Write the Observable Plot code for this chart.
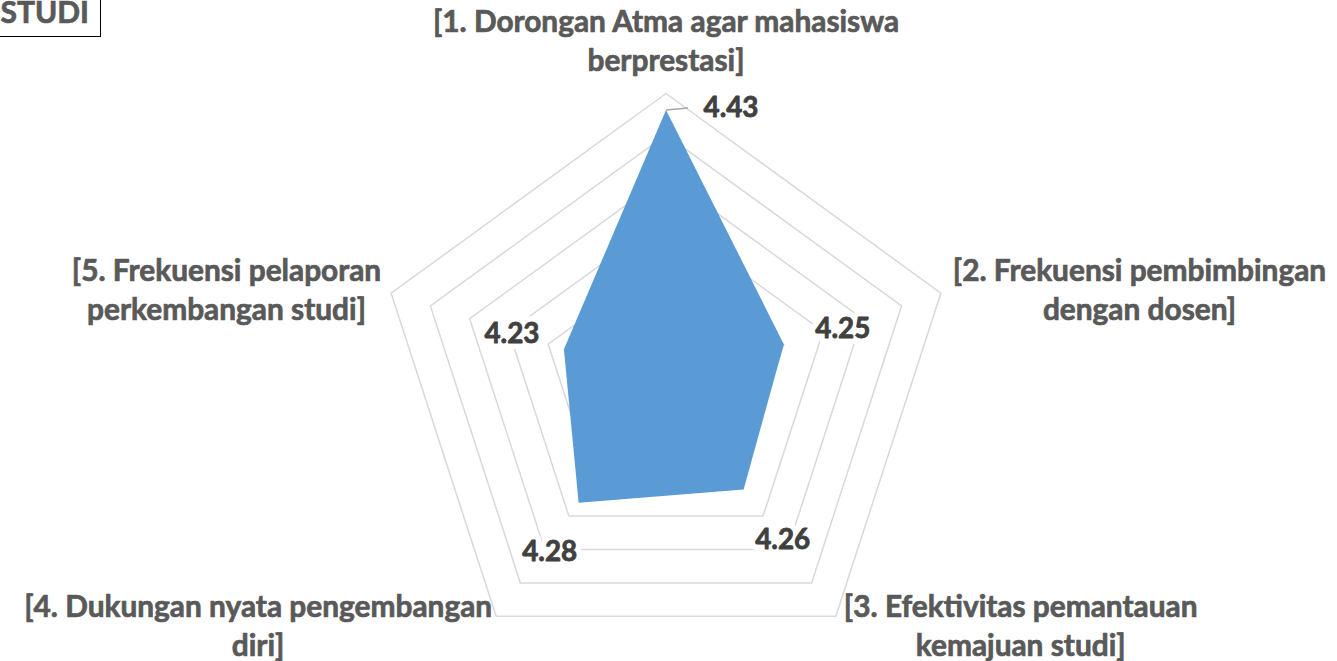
<!DOCTYPE html>
<html>
<head>
<meta charset="utf-8">
<script src="https://cdn.jsdelivr.net/npm/d3@7"></script>
<script src="https://cdn.jsdelivr.net/npm/@observablehq/plot@0.6"></script>
<style>
  body { margin: 0; background: #fff; }
  #wrap { position: relative; width: 1337px; height: 661px; overflow: hidden; background: #fff; }
  #chart { position: absolute; left: 0; top: 0; }
  #title {
    position: absolute; top: -10px; right: 1236px; height: 47px; box-sizing: border-box;
    border: 1.5px solid #000; padding: 0 11px 0 4px; background: #fff;
    font: bold 30px Lato, sans-serif; color: #595959; line-height: 40px; white-space: nowrap;
    -webkit-text-stroke: 0.7px #595959;
  }
</style>
</head>
<body>
<div id="wrap"><div id="chart"></div><div id="title">STUDI</div></div>
<script>
// ---- data ----
const categories = [
  "[1. Dorongan Atma agar mahasiswa\nberprestasi]",
  "[2. Frekuensi pembimbingan\ndengan dosen]",
  "[3. Efektivitas pemantauan\nkemajuan studi]",
  "[4. Dukungan nyata pengembangan\ndiri]",
  "[5. Frekuensi pelaporan\nperkembangan studi]"
];
const values = [4.43, 4.25, 4.26, 4.28, 4.23];
const gridValues = [4.15, 4.20, 4.25, 4.30, 4.35, 4.40, 4.45];
const axisMin = 4.10;
const axisMax = 4.45;

// ---- layout ----
const W = 1337, H = 661, CX = 665.5, CY = 382, R = 289;
const FONT = "Lato";
const ctx = document.createElement("canvas").getContext("2d");
function measure(text, size) { ctx.font = `bold ${size}px ${FONT}`; return ctx.measureText(text).width; }
const catSize = 24 * 468 / measure("[1. Dorongan Atma agar mahasiswa", 24);
const valSize = 24 * 55 / measure("4.43", 24);
const catLineHeight = 39 / catSize;

const n = categories.length;
const frac = v => (v - axisMin) / (axisMax - axisMin);
const polar = (i, f) => ({ x: f * Math.sin(i * 2 * Math.PI / n), y: f * Math.cos(i * 2 * Math.PI / n) });

const ringPts = gridValues.flatMap(g => categories.map((c, i) => ({ ring: g, ...polar(i, frac(g)) })));
const dataPts = values.map((v, i) => ({ value: v, ...polar(i, frac(v)) }));

// value label nudges in px (Excel placement)
const valNudge = [[65, -2], [59, -15], [39, 51], [-29, 49], [-52, -15]];
const valLabels = dataPts.map((d, i) => ({
  text: d.value.toFixed(2), x: d.x + valNudge[i][0] / R, y: d.y - valNudge[i][1] / R
}));

// category label placement: side of the outer vertex + gap
const catPlace = [["center", 0, -54], ["right", 12, -5], ["right", 8, 8], ["left", 4, 8], ["left", 10, -5]];
const catLabels = categories.map((c, i) => {
  const v = polar(i, 1);
  const w = Math.max(...c.split("\n").map(s => measure(s, catSize)));
  const [side, gap, dy] = catPlace[i];
  let dx = 0;
  if (side === "right") dx = gap + w / 2;
  if (side === "left") dx = -(gap + w / 2);
  return { text: c, x: v.x + dx / R, y: v.y - dy / R };
});

const plot = Plot.plot({
  width: W, height: H, margin: 0,
  x: { domain: [-CX / R, (W - CX) / R], axis: null },
  y: { domain: [-(H - CY) / R, CY / R], axis: null },
  style: { fontFamily: `${FONT}, sans-serif`, background: "white" },
  marks: [
    Plot.line(ringPts, { x: "x", y: "y", z: "ring", curve: "linear-closed", stroke: "#d9d9d9", strokeWidth: 1.5 }),
    Plot.line(dataPts, { x: "x", y: "y", curve: "linear-closed", fill: "#5b9bd5", stroke: "none" }),
    Plot.link([dataPts[0]], { x1: "x", y1: "y", x2: d => d.x + 22 / R, y2: d => d.y + 2 / R, stroke: "#a6a6a6", strokeWidth: 1.5 }),
    Plot.text(valLabels, { x: "x", y: "y", text: "text", fontSize: valSize, fontWeight: "bold", fill: "white", stroke: "white", strokeWidth: 12, strokeLinejoin: "round" }),
    Plot.text(valLabels, { x: "x", y: "y", text: "text", fontSize: valSize, fontWeight: "bold", fill: "#404040", stroke: "#404040", strokeWidth: 0.8 }),
    Plot.text(catLabels, { x: "x", y: "y", text: "text", fontSize: catSize, fontWeight: "bold", fill: "#595959", stroke: "#595959", strokeWidth: 0.7, lineAnchor: "middle", lineHeight: catLineHeight })
  ]
});
document.getElementById("chart").appendChild(plot);
</script>
</body>
</html>
